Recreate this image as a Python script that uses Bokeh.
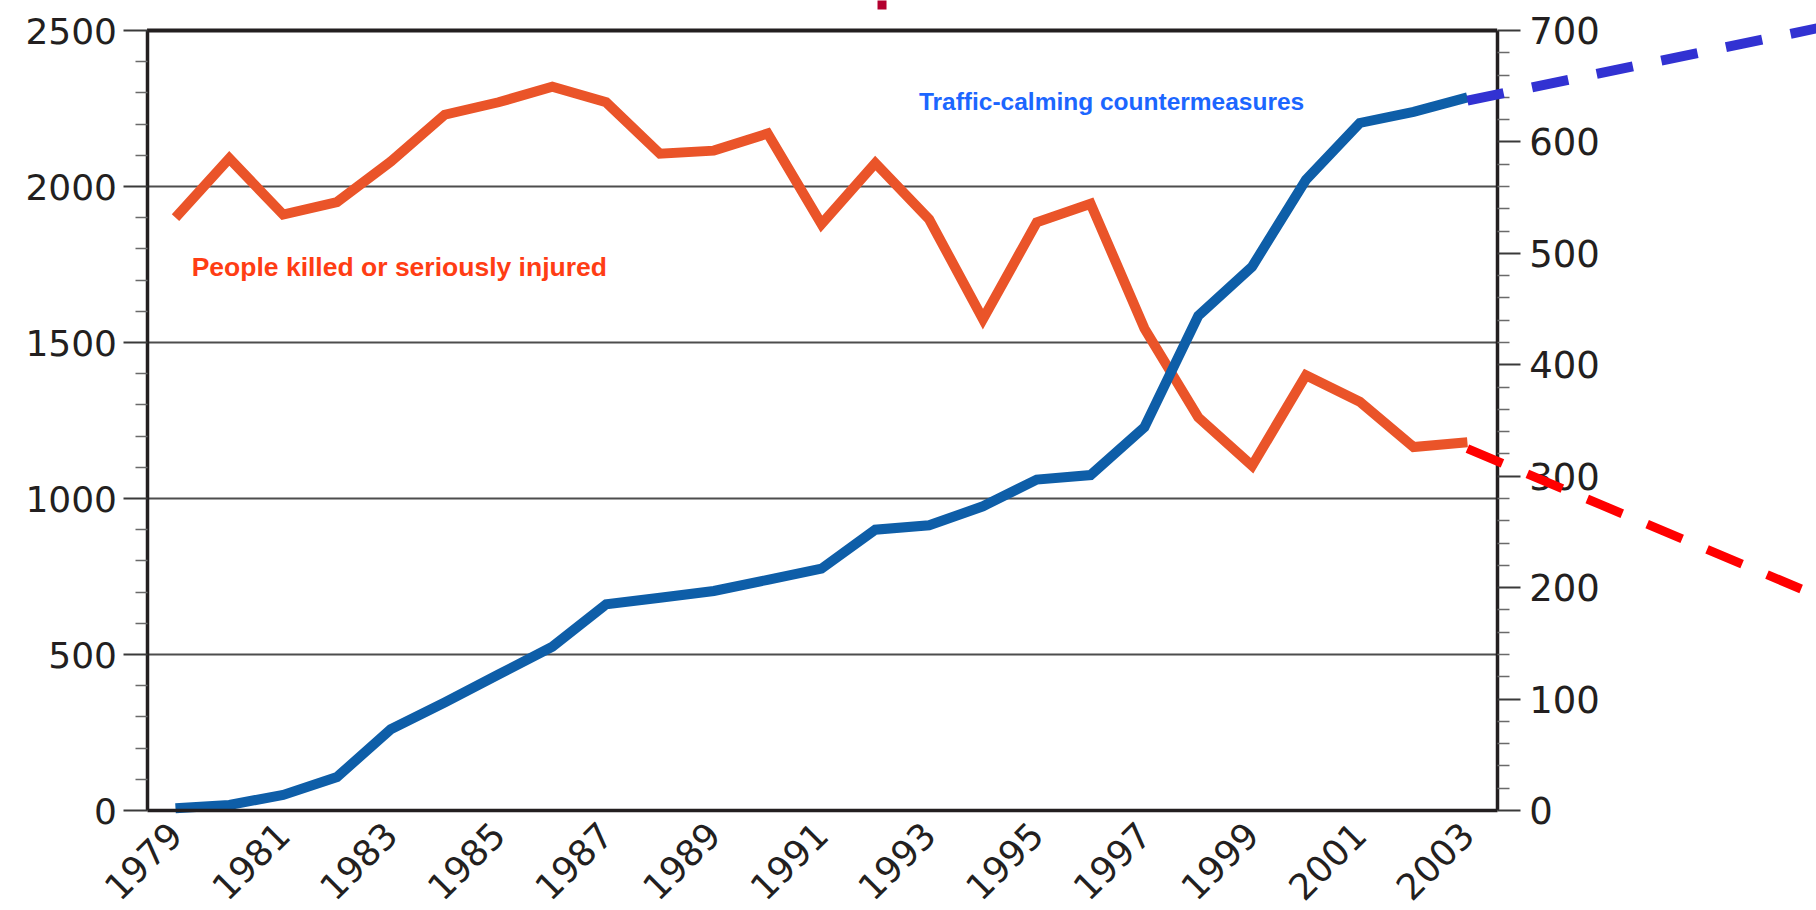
import math
from bokeh.plotting import figure
from bokeh.models import LinearAxis, Range1d, FixedTicker, BoxAnnotation, Label
from bokeh.embed import file_html
from bokeh.resources import INLINE

# ---------------- data ----------------
years = list(range(1979, 2004))
killed_injured = [1900, 2090, 1910, 1950, 2080, 2230, 2270, 2320, 2270, 2105, 2115, 2170,
                  1880, 2075, 1895, 1575, 1885, 1945, 1545, 1260, 1105, 1395, 1310, 1165, 1180]
countermeasures = [2, 5, 14, 30, 73, 97, 122, 147, 185, 191, 197, 207,
                   217, 252, 256, 273, 297, 301, 344, 444, 488, 566, 617, 627, 640]

proj_years_calming = [2003, 2010]
proj_calming = [637, 707]
proj_years_killed = [2003, 2009.2]
proj_killed = [1160, 710]

left_ticks = [0, 500, 1000, 1500, 2000, 2500]
left_minor = [v for v in range(100, 2500, 100) if v % 500]
right_ticks = [0, 100, 200, 300, 400, 500, 600, 700]
right_minor = [v for v in range(20, 700, 20) if v % 100]
year_ticks = list(range(1979, 2004, 2))
grid_values = [500, 1000, 1500, 2000]

label_killed = "People killed or seriously injured"
label_calming = "Traffic-calming countermeasures"

# small cropped mark at the top edge of the picture
mark_x = [1992.125]
mark_y0 = [2567]
mark_y1 = [2600]

# ---------------- layout constants ----------------
XS, XE = 1975.749, 2009.485     # x range (frame = whole canvas)
XL = 1978.471                   # left axis location
XR = 2003.553                   # right axis location
YS, YE = -320.5, 2596.2         # left y range
YRS, YRE = -89.74, 726.9        # right y range
CLIP_X = 2005.47

ORANGE = "#ea5429"
BLUE = "#0e5ea8"
AX = "#231f20"
TICK_FONT = "DejaVu Sans"

p = figure(width=1816, height=910, x_range=Range1d(XS, XE), y_range=Range1d(YS, YE),
           x_axis_location=None, y_axis_location=None,
           toolbar_location=None, output_backend="svg",
           min_border_left=0, min_border_right=0, min_border_top=0, min_border_bottom=0)
p.extra_y_ranges = {"right": Range1d(YRS, YRE)}
p.outline_line_color = None
p.xgrid.visible = False
p.ygrid.visible = False
p.background_fill_color = "white"
p.border_fill_color = "white"

# left axis
yl = LinearAxis(fixed_location=XL, bounds=(0, 2500),
                ticker=FixedTicker(ticks=left_ticks, minor_ticks=left_minor))
yl.axis_line_color = AX
yl.axis_line_width = 3.5
yl.major_tick_out = 24
yl.major_tick_in = 0
yl.major_tick_line_color = "#3a3a3a"
yl.major_tick_line_width = 2
yl.minor_tick_out = 12
yl.minor_tick_in = 0
yl.minor_tick_line_color = "#6a6a6a"
yl.minor_tick_line_width = 1.5
yl.major_label_text_font = TICK_FONT
yl.major_label_text_font_size = "36px"
yl.major_label_text_color = "#231f20"
yl.major_label_standoff = 6
p.add_layout(yl, "left")

# right axis
yr = LinearAxis(y_range_name="right", fixed_location=XR, bounds=(0, 700),
                ticker=FixedTicker(ticks=right_ticks, minor_ticks=right_minor))
yr.axis_line_color = AX
yr.axis_line_width = 3.5
yr.major_tick_out = 23
yr.major_tick_in = 0
yr.major_tick_line_color = "#3a3a3a"
yr.major_tick_line_width = 2
yr.minor_tick_out = 12
yr.minor_tick_in = 0
yr.minor_tick_line_color = "#6a6a6a"
yr.minor_tick_line_width = 1.5
yr.major_label_text_font = TICK_FONT
yr.major_label_text_font_size = "37px"
yr.major_label_text_color = "#231f20"
yr.major_label_standoff = 9
p.add_layout(yr, "right")

# bottom axis
xb = LinearAxis(fixed_location=0, bounds=(XL, XR),
                ticker=FixedTicker(ticks=year_ticks, minor_ticks=[]))
xb.axis_line_color = AX
xb.axis_line_width = 3.5
xb.major_tick_out = 0
xb.major_tick_in = 0
xb.minor_tick_out = 0
xb.minor_tick_in = 0
xb.major_label_orientation = math.pi / 4
xb.major_label_text_font = TICK_FONT
xb.major_label_text_font_size = "36px"
xb.major_label_text_color = "#231f20"
xb.major_label_standoff = 18
p.add_layout(xb, "below")

# grid lines (stop at right axis) and top border
p.segment(x0=[XL] * len(grid_values), y0=grid_values, x1=[XR] * len(grid_values), y1=grid_values,
          line_color="#4d4d4d", line_width=2)
p.segment(x0=[XL], y0=[left_ticks[-1]], x1=[XR], y1=[left_ticks[-1]],
          line_color=AX, line_width=4)

# cropped mark at top
p.segment(x0=mark_x, y0=mark_y0, x1=mark_x, y1=mark_y1, line_color="#b3002f", line_width=9)

# data lines
p.line(years, killed_injured, line_color=ORANGE, line_width=10, line_join="miter")
p.line(years, countermeasures, y_range_name="right", line_color=BLUE, line_width=10,
       line_join="miter")

# cover for clipped right labels
p.add_layout(BoxAnnotation(left=CLIP_X, bottom=0, fill_color="white", fill_alpha=1.0,
                           line_color=None))

# projections (drawn above everything)
p.line(proj_years_calming, proj_calming, y_range_name="right", line_color="#3232d2",
       line_width=10, line_dash="37 29", level="overlay")
p.line(proj_years_killed, proj_killed, line_color="#ff0000",
       line_width=9, line_dash="38 27", level="overlay")

# series labels
p.add_layout(Label(x=1979.30, y=1742, text=label_killed, text_font="Liberation Sans",
                   text_font_style="bold", text_font_size="26.5px", text_color="#ff3d14",
                   text_baseline="middle", text_align="left"))
p.add_layout(Label(x=1992.81, y=2273, text=label_calming, text_font="Liberation Sans",
                   text_font_style="bold", text_font_size="24.5px", text_color="#1c66ff",
                   text_baseline="middle", text_align="left"))

open("out.html", "w").write(file_html(p, INLINE))
